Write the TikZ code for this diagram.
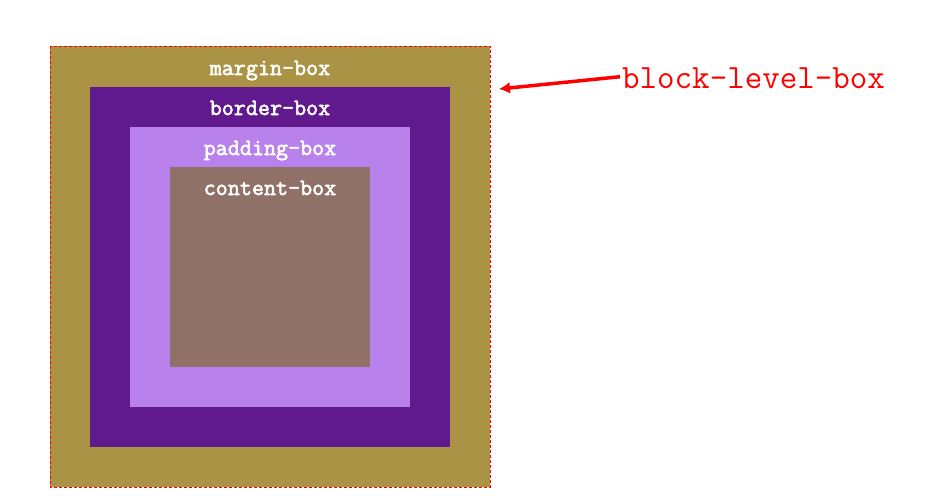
\documentclass[tikz,border=0pt]{standalone}
\usepackage{fontspec}
\newfontfamily\lblfont[FakeBold=2.5]{Latin Modern Mono}
\newfontfamily\redfont{Latin Modern Mono}
\usetikzlibrary{arrows.meta}
\definecolor{marginc}{RGB}{170,147,68}
\definecolor{borderc}{RGB}{97,25,142}
\definecolor{paddingc}{RGB}{185,129,236}
\definecolor{contentc}{RGB}{143,113,104}
\tikzset{
  boxlabel/.style={text=white,font=\lblfont\fontsize{23.4}{23.4}\selectfont,inner sep=0pt,anchor=base},
  region/.style={draw=none,inner sep=0pt,anchor=north west}
}
\begin{document}
\begin{tikzpicture}[x=1pt,y=-1pt]
\useasboundingbox (0,0) rectangle (928,495);
\fill[marginc] (50,46) rectangle (490,487);
\draw[red,densely dashed,line width=0.8pt] (50,46) rectangle (490,487);
\node[region,fill=borderc,minimum width=360pt,minimum height=360pt] (border) at (90,87) {};
\node[region,fill=paddingc,minimum width=280pt,minimum height=280pt] (padding) at (130,127) {};
\node[region,fill=contentc,minimum width=200pt,minimum height=200pt] (content) at (170,167) {};
\node[boxlabel] (lm) at (270,75) {margin-box};
\node[boxlabel] (lb) at (270,115) {border-box};
\node[boxlabel] (lp) at (270,155) {padding-box};
\node[boxlabel] (lc) at (270,195) {content-box};
\node[text=red,font=\redfont\fontsize{34}{34}\selectfont,inner sep=0pt,anchor=base west] (blb) at (622,88) {block-level-box};
\coordinate (tip) at (499,89);
\draw[red,line width=3.5pt,-{Latex[length=11pt,width=12pt]}] (blb.west) ++(-2,-1) -- (tip);
\end{tikzpicture}
\end{document}
